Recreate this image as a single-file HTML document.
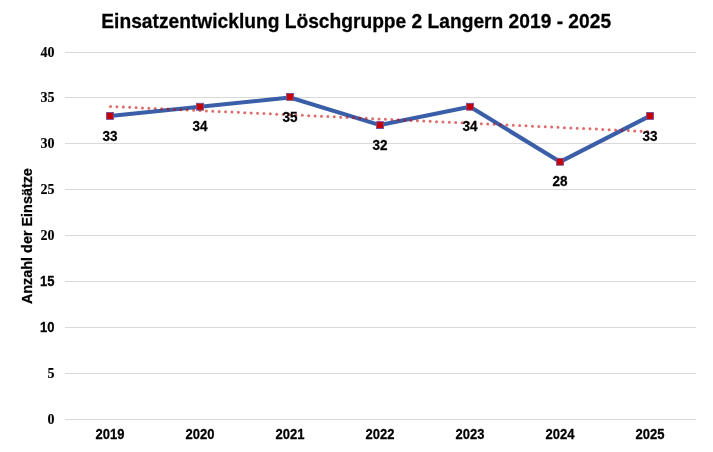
<!DOCTYPE html><html><head><meta charset="utf-8"><title>Einsatzentwicklung</title><style>
html,body{margin:0;padding:0;background:#fff;}body{width:713px;height:452px;overflow:hidden;}
svg{display:block;will-change:transform;} text{font-family:"Liberation Sans",Arial,sans-serif;font-weight:bold;fill:#000;stroke:#000;stroke-width:0.25px;}
.sf{font-family:"Liberation Serif","Times New Roman",serif;stroke-width:0.12px;}
</style></head><body>
<svg width="713" height="452" viewBox="0 0 713 452">
<rect width="713" height="452" fill="#fff"/>
<text transform="translate(101.30,27.50) scale(1,1.04)" font-size="19.2">Einsatzentwicklung Löschgruppe 2 Langern 2019 - 2025</text>
<line x1="65" y1="52.5" x2="696" y2="52.5" stroke="#d9d9d9" stroke-width="1"/>
<line x1="65" y1="97.5" x2="696" y2="97.5" stroke="#d9d9d9" stroke-width="1"/>
<line x1="65" y1="143.5" x2="696" y2="143.5" stroke="#d9d9d9" stroke-width="1"/>
<line x1="65" y1="189.5" x2="696" y2="189.5" stroke="#d9d9d9" stroke-width="1"/>
<line x1="65" y1="235.5" x2="696" y2="235.5" stroke="#d9d9d9" stroke-width="1"/>
<line x1="65" y1="281.5" x2="696" y2="281.5" stroke="#d9d9d9" stroke-width="1"/>
<line x1="65" y1="327.5" x2="696" y2="327.5" stroke="#d9d9d9" stroke-width="1"/>
<line x1="65" y1="373.5" x2="696" y2="373.5" stroke="#d9d9d9" stroke-width="1"/>
<line x1="65" y1="419.5" x2="696" y2="419.5" stroke="#d9d9d9" stroke-width="1"/>
<text x="54.40" y="56.60" font-size="14.0" text-anchor="end" class="sf">40</text>
<text x="54.40" y="102.47" font-size="14.0" text-anchor="end" class="sf">35</text>
<text x="54.40" y="148.35" font-size="14.0" text-anchor="end" class="sf">30</text>
<text x="54.40" y="194.22" font-size="14.0" text-anchor="end" class="sf">25</text>
<text x="54.40" y="240.10" font-size="14.0" text-anchor="end" class="sf">20</text>
<text transform="translate(54.40,285.98) scale(1,1.1)" font-size="13.0" text-anchor="end">15</text>
<text transform="translate(54.40,331.85) scale(1,1.1)" font-size="13.0" text-anchor="end">10</text>
<text x="54.40" y="377.73" font-size="14.0" text-anchor="end" class="sf">5</text>
<text x="54.40" y="423.60" font-size="14.0" text-anchor="end" class="sf">0</text>
<text transform="translate(110.00,438.90) scale(1,1.12)" font-size="13.0" text-anchor="middle">2019</text>
<text transform="translate(200.00,438.90) scale(1,1.12)" font-size="13.0" text-anchor="middle">2020</text>
<text transform="translate(290.00,438.90) scale(1,1.12)" font-size="13.0" text-anchor="middle">2021</text>
<text transform="translate(380.00,438.90) scale(1,1.12)" font-size="13.0" text-anchor="middle">2022</text>
<text transform="translate(470.00,438.90) scale(1,1.12)" font-size="13.0" text-anchor="middle">2023</text>
<text transform="translate(560.00,438.90) scale(1,1.12)" font-size="13.0" text-anchor="middle">2024</text>
<text transform="translate(650.00,438.90) scale(1,1.12)" font-size="13.0" text-anchor="middle">2025</text>
<text transform="translate(32.0,236.1) rotate(-90)" font-size="14.4" text-anchor="middle">Anzahl der Einsätze</text>
<polyline points="110,115.93 200,106.75 290,97.57 380,125.10 470,106.75 560,161.80 650,115.93" fill="none" stroke="#3a5ea8" stroke-width="4.1" stroke-linejoin="round" stroke-linecap="round"/>
<line x1="110" y1="106.37" x2="650" y2="131.63" stroke="#c80000" stroke-opacity="0.58" stroke-width="3.0" stroke-linecap="round" stroke-dasharray="0 6.4" stroke-dashoffset="-0.5"/>
<rect x="106.60" y="112.53" width="6.8" height="6.8" fill="#c80000" stroke="#7e4e92" stroke-width="1.0"/>
<rect x="196.60" y="103.35" width="6.8" height="6.8" fill="#c80000" stroke="#7e4e92" stroke-width="1.0"/>
<rect x="286.60" y="93.47" width="6.8" height="6.8" fill="#c80000" stroke="#7e4e92" stroke-width="1.0"/>
<rect x="376.60" y="121.70" width="6.8" height="6.8" fill="#c80000" stroke="#7e4e92" stroke-width="1.0"/>
<rect x="466.60" y="103.35" width="6.8" height="6.8" fill="#c80000" stroke="#7e4e92" stroke-width="1.0"/>
<rect x="556.60" y="158.40" width="6.8" height="6.8" fill="#c80000" stroke="#7e4e92" stroke-width="1.0"/>
<rect x="646.60" y="112.53" width="6.8" height="6.8" fill="#c80000" stroke="#7e4e92" stroke-width="1.0"/>
<text transform="translate(110.00,140.62) scale(1,1.05)" font-size="13.5" text-anchor="middle">33</text>
<text transform="translate(200.00,131.45) scale(1,1.05)" font-size="13.5" text-anchor="middle">34</text>
<text transform="translate(290.00,122.27) scale(1,1.05)" font-size="13.5" text-anchor="middle">35</text>
<text transform="translate(380.00,149.80) scale(1,1.05)" font-size="13.5" text-anchor="middle">32</text>
<text transform="translate(470.00,131.45) scale(1,1.05)" font-size="13.5" text-anchor="middle">34</text>
<text transform="translate(560.00,185.80) scale(1,1.05)" font-size="13.5" text-anchor="middle">28</text>
<text transform="translate(650.00,140.62) scale(1,1.05)" font-size="13.5" text-anchor="middle">33</text>
</svg></body></html>
